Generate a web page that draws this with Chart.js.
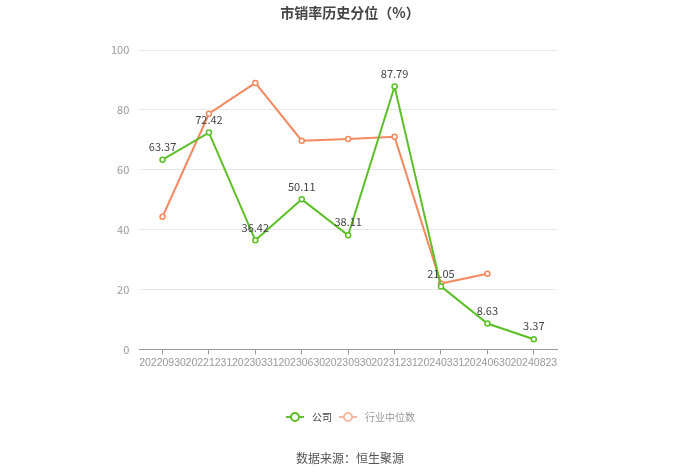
<!DOCTYPE html>
<html>
<head>
<meta charset="utf-8">
<script src="https://cdn.jsdelivr.net/npm/chart.js@4"></script>
<style>
  html, body { margin: 0; padding: 0; background: #fff; }
  #wrap { width: 700px; height: 474px; position: relative; }
</style>
</head>
<body>
<div id="wrap"><canvas id="chart"></canvas></div>
<script>
const labels = ['20220930', '20221231', '20230331', '20230630', '20230930', '20231231', '20240331', '20240630', '20240823'];
const companyValues = [63.37, 72.42, 36.42, 50.11, 38.11, 87.79, 21.05, 8.63, 3.37];
const industryValues = [44.3, 78.7, 89.0, 69.7, 70.3, 71.0, 22.0, 25.3, null];
const titleText = '市销率历史分位（%）';
const sourceText = '数据来源：恒生聚源';
const font = '"Noto Sans CJK SC", "Noto Sans", sans-serif';

const green = '#5cbf27';
const orange = '#f4895f';

// labels on the company line + title, legend and source text
const extras = {
    id: 'extras',
    afterDatasetsDraw(chart) {
        const ctx = chart.ctx;
        const meta = chart.getDatasetMeta(0);
        ctx.save();
        ctx.font = '11px ' + font;
        ctx.fillStyle = '#444';
        ctx.textAlign = 'center';
        ctx.textBaseline = 'middle';
        meta.data.forEach((pt, i) => {
            ctx.fillText(companyValues[i].toFixed(2), pt.x, pt.y - 13);
        });
        ctx.restore();
    },
    afterDraw(chart) {
        const ctx = chart.ctx;
        ctx.save();
        ctx.textBaseline = 'middle';
        ctx.textAlign = 'center';
        ctx.font = 'bold 14px ' + font;
        ctx.fillStyle = '#444';
        ctx.fillText(titleText, 350, 13);

        ctx.font = '12px ' + font;
        ctx.fillStyle = '#555';
        ctx.fillText(sourceText, 350, 458);

        // legend
        const items = chart.data.datasets.map((d, i) => ({
            label: d.label,
            color: i === 0 ? green : '#f7b9a0',
            text: i === 0 ? '#444' : '#999'
        }));
        let x = 286;
        const y = 417;
        ctx.textAlign = 'left';
        items.forEach(it => {
            ctx.strokeStyle = it.color;
            ctx.lineWidth = 2;
            ctx.beginPath();
            ctx.moveTo(x, y);
            ctx.lineTo(x + 18, y);
            ctx.stroke();
            ctx.beginPath();
            ctx.arc(x + 9, y, 4, 0, Math.PI * 2);
            ctx.fillStyle = '#fff';
            ctx.fill();
            ctx.stroke();
            ctx.fillStyle = it.text;
            ctx.font = '10px ' + font;
            ctx.fillText(it.label, x + 26, y);
            x += 26 + ctx.measureText(it.label).width + 7;
        });
        ctx.restore();
    }
};

new Chart(document.getElementById('chart'), {
    type: 'line',
    data: {
        labels: labels,
        datasets: [{
            label: '公司',
            data: companyValues,
            borderColor: green,
            backgroundColor: '#fff',
            borderWidth: 2,
            pointRadius: 2.5,
            pointBorderWidth: 1.5,
            pointBackgroundColor: '#fff',
            tension: 0
        }, {
            label: '行业中位数',
            data: industryValues,
            borderColor: orange,
            backgroundColor: '#fff',
            borderWidth: 2,
            pointRadius: 2.5,
            pointBorderWidth: 1.5,
            pointBackgroundColor: '#fff',
            tension: 0
        }]
    },
    options: {
        responsive: true,
        maintainAspectRatio: false,
        animation: false,
        layout: { padding: { left: 101, right: 143, top: 50, bottom: 103 } },
        plugins: {
            legend: { display: false },
            title: { display: false },
            tooltip: { enabled: false }
        },
        scales: {
            x: {
                offset: true,
                grid: { display: true, drawOnChartArea: false, drawTicks: true, tickLength: 5, color: '#999', offset: false },
                border: { display: true, color: '#999' },
                ticks: { color: '#999', font: { size: 10.5, family: '"Liberation Sans", sans-serif' }, maxRotation: 0, autoSkip: false, padding: 2 }
            },
            y: {
                min: 0,
                max: 100,
                ticks: { stepSize: 20, color: '#999', font: { size: 11, family: font }, padding: 10 },
                grid: { color: '#e8e8e8', drawTicks: false },
                border: { display: false }
            }
        }
    },
    plugins: [extras]
});
</script>
</body>
</html>
